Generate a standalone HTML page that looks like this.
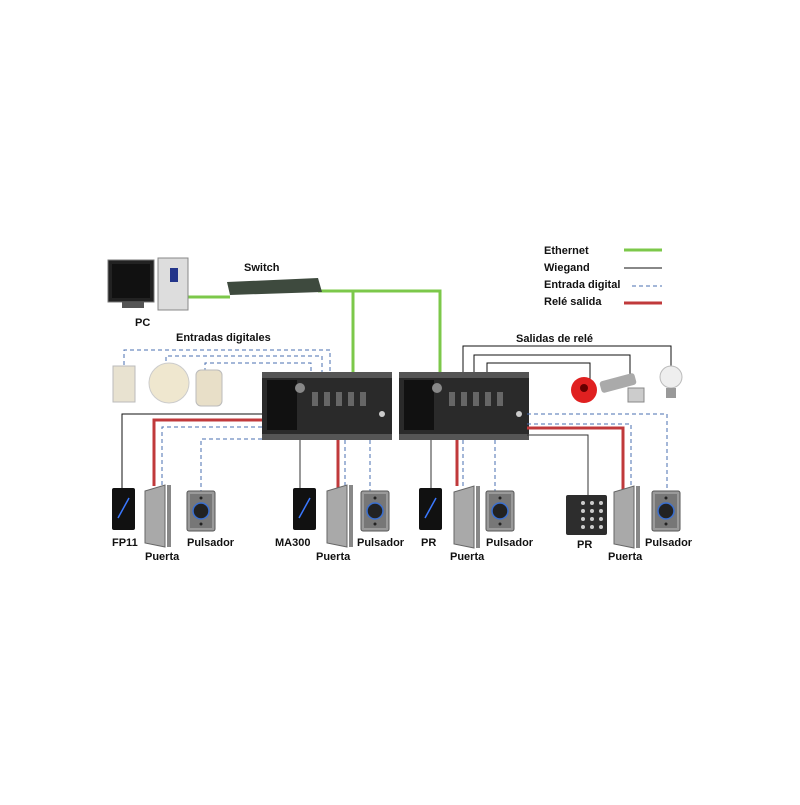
<!DOCTYPE html>
<html><head><meta charset="utf-8"><style>
body{margin:0;background:#fff}
text{font-family:"Liberation Sans",sans-serif;font-weight:bold;font-size:11px;fill:#111}
</style></head><body>
<svg width="800" height="800" viewBox="0 0 800 800" xmlns="http://www.w3.org/2000/svg">
<defs>
<g id="pul"><rect x="0" y="0" width="28" height="40" rx="2" fill="#9a9a9a" stroke="#555"/><rect x="3" y="3" width="22" height="34" fill="#777"/><circle cx="14" cy="20" r="8" fill="#222" stroke="#3a6fd0" stroke-width="1.5"/><circle cx="14" cy="7" r="1.5" fill="#222"/><circle cx="14" cy="33" r="1.5" fill="#222"/></g>
<g id="door"><polygon points="0,6 20,0 20,62 0,58" fill="#a9a9a9" stroke="#666"/><rect x="22" y="0" width="4" height="62" fill="#888"/></g>
<g id="rdr"><rect x="0" y="0" width="23" height="42" rx="2" fill="#111"/><path d="M6 30 L17 10" stroke="#3a78ff" stroke-width="1.5"/></g>
<g id="board"><rect x="0" y="0" width="130" height="68" fill="#2a2a2a"/><rect x="5" y="8" width="30" height="50" fill="#111"/><rect x="0" y="0" width="130" height="6" fill="#555"/><rect x="0" y="62" width="130" height="6" fill="#555"/><g fill="#666"><rect x="50" y="20" width="6" height="14"/><rect x="62" y="20" width="6" height="14"/><rect x="74" y="20" width="6" height="14"/><rect x="86" y="20" width="6" height="14"/><rect x="98" y="20" width="6" height="14"/></g><circle cx="38" cy="16" r="5" fill="#888"/><circle cx="120" cy="42" r="3" fill="#ccc"/></g>
</defs>
<text x="544" y="254">Ethernet</text><text x="544" y="271">Wiegand</text><text x="544" y="288">Entrada digital</text><text x="544" y="305">Relé salida</text>
<line x1="624" y1="250" x2="662" y2="250" stroke="#7cc84a" stroke-width="3"/>
<line x1="624" y1="268" x2="662" y2="268" stroke="#111" stroke-width="1"/>
<line x1="632" y1="286" x2="662" y2="286" stroke="#4a6fb0" stroke-dasharray="4,3"/>
<line x1="624" y1="303" x2="662" y2="303" stroke="#c0393b" stroke-width="3"/>
<g stroke="#7cc84a" stroke-width="3" fill="none"><path d="M186 297 H230"/><path d="M318 291 H440 V378"/><path d="M353 291 V372"/></g>
<rect x="108" y="260" width="46" height="42" fill="#222" stroke="#777"/><rect x="112" y="264" width="38" height="34" fill="#111"/><rect x="122" y="302" width="22" height="6" fill="#555"/>
<rect x="158" y="258" width="30" height="52" fill="#ddd" stroke="#888"/><rect x="170" y="268" width="8" height="14" fill="#23358a"/>
<text x="135" y="326">PC</text>
<polygon points="227,282 318,278 322,292 230,295" fill="#3e4a3e"/><text x="244" y="271">Switch</text>
<g stroke="#4a6fb0" stroke-dasharray="4,3" fill="none"><path d="M124 365 V350 H330 V372"/><path d="M166 368 V356 H322 V372"/><path d="M205 372 V363 H311 V372"/></g>
<text x="176" y="341">Entradas digitales</text>
<rect x="113" y="366" width="22" height="36" fill="#e8e2d0" stroke="#bbb"/>
<circle cx="169" cy="383" r="20" fill="#efe7cf" stroke="#ccc"/>
<rect x="196" y="370" width="26" height="36" rx="5" fill="#e8dfc8" stroke="#bbb"/>
<text x="516" y="342">Salidas de relé</text>
<g stroke="#111" fill="none"><path d="M463 372 V346 H671 V370"/><path d="M474 372 V355 H630 V374"/><path d="M487 372 V363 H590 V380"/></g>
<circle cx="584" cy="390" r="13" fill="#e02020"/><circle cx="584" cy="388" r="4" fill="#600"/>
<rect x="600" y="377" width="36" height="12" rx="3" fill="#aaa" transform="rotate(-15 618 383)"/><rect x="628" y="388" width="16" height="14" fill="#ccc" stroke="#888"/>
<circle cx="671" cy="377" r="11" fill="#eee" stroke="#bbb"/><rect x="666" y="388" width="10" height="10" fill="#999"/>
<use href="#board" x="262" y="372"/><use href="#board" x="399" y="372"/>
<path d="M262 414 H122 V488" stroke="#111" fill="none"/>
<path d="M262 420 H154 V486" stroke="#c0393b" stroke-width="3" fill="none"/>
<g stroke="#4a6fb0" stroke-dasharray="4,3" fill="none"><path d="M262 427 H162 V486"/><path d="M262 439 H201 V492"/><path d="M345 440 V486"/><path d="M370 440 V492"/><path d="M463 440 V488"/><path d="M495 440 V492"/><path d="M527 414 H667 V492"/><path d="M527 424 H631 V490"/></g>
<path d="M300 440 V488" stroke="#333" fill="none"/>
<path d="M338 440 V488" stroke="#c0393b" stroke-width="3" fill="none"/>
<path d="M431 440 V488" stroke="#333" fill="none"/>
<path d="M457 440 V486" stroke="#c0393b" stroke-width="3" fill="none"/>
<path d="M527 428 H623 V492" stroke="#c0393b" stroke-width="3" fill="none"/>
<path d="M527 435 H588 V495" stroke="#333" fill="none"/>
<use href="#rdr" x="112" y="488"/><use href="#door" x="145" y="485"/><use href="#pul" x="187" y="491"/>
<use href="#rdr" x="293" y="488"/><use href="#door" x="327" y="485"/><use href="#pul" x="361" y="491"/>
<use href="#rdr" x="419" y="488"/><use href="#door" x="454" y="486"/><use href="#pul" x="486" y="491"/>
<rect x="566" y="495" width="41" height="40" rx="2" fill="#2d2d2d"/>
<g fill="#ccc"><circle cx="583" cy="503" r="2"/><circle cx="592" cy="503" r="2"/><circle cx="601" cy="503" r="2"/><circle cx="583" cy="511" r="2"/><circle cx="592" cy="511" r="2"/><circle cx="601" cy="511" r="2"/><circle cx="583" cy="519" r="2"/><circle cx="592" cy="519" r="2"/><circle cx="601" cy="519" r="2"/><circle cx="583" cy="527" r="2"/><circle cx="592" cy="527" r="2"/><circle cx="601" cy="527" r="2"/></g>
<use href="#door" x="614" y="486"/><use href="#pul" x="652" y="491"/>
<text x="112" y="546">FP11</text><text x="145" y="560">Puerta</text><text x="187" y="546">Pulsador</text>
<text x="275" y="546">MA300</text><text x="316" y="560">Puerta</text><text x="357" y="546">Pulsador</text>
<text x="421" y="546">PR</text><text x="450" y="560">Puerta</text><text x="486" y="546">Pulsador</text>
<text x="577" y="548">PR</text><text x="608" y="560">Puerta</text><text x="645" y="546">Pulsador</text>
</svg>
</body></html>
